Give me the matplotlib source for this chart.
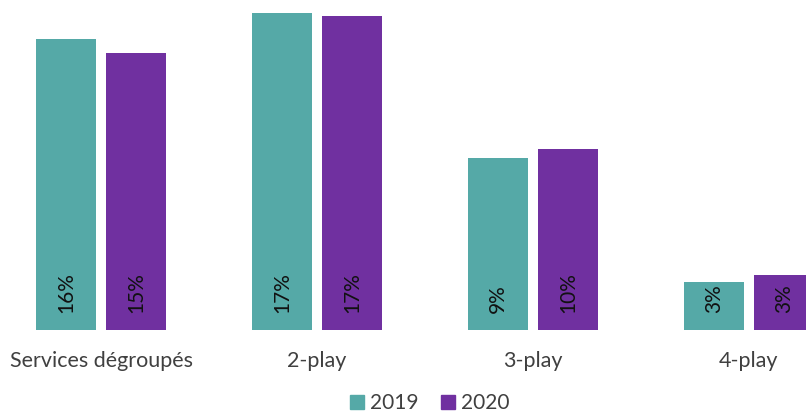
import matplotlib
matplotlib.use("Agg")
import matplotlib.pyplot as plt
import numpy as np
from matplotlib.patches import Patch

categories = ["Services dégroupés", "2-play", "3-play", "4-play"]
series_names = ["2019", "2020"]
values_2019 = [15.6, 17.0, 9.2, 2.6]
values_2020 = [14.85, 16.85, 9.7, 2.95]
labels_2019 = ["16%", "17%", "9%", "3%"]
labels_2020 = ["15%", "17%", "10%", "3%"]
colors = ["#55A9A7", "#7030A0"]

plt.rcParams['font.family'] = ['Lato', 'DejaVu Sans']

fig = plt.figure(figsize=(8.06, 4.16), dpi=100)
ax = fig.add_axes([0, 86/416, 1, 330/416])

x = np.arange(len(categories))
w = 0.278
off = 0.162
for vals, labs, col, sign in [(values_2019, labels_2019, colors[0], -1),
                              (values_2020, labels_2020, colors[1], 1)]:
    bars = ax.bar(x + sign*off, vals, width=w, color=col)
    for b, lab in zip(bars, labs):
        ax.annotate(lab, (b.get_x() + b.get_width()/2, 0), xytext=(0, 12),
                    textcoords="offset points", rotation=90, ha="center",
                    va="bottom", fontsize=15, color="#111111")

ax.set_xlim(-0.4676, 3.2639)
ax.set_ylim(0, 17.7)
ax.set_xticks(x)
ax.set_xticklabels(categories, fontsize=15.5, color="#404040")
ax.tick_params(axis='x', length=0, pad=15)
ax.set_yticks([])
for s in ax.spines.values():
    s.set_visible(False)

handles = [Patch(color=c, label=n) for c, n in zip(colors, series_names)]
fig.legend(handles=handles, loc="lower center", bbox_to_anchor=(430/806, -0.038),
           ncol=2, frameon=False, fontsize=15, handlelength=0.65, handleheight=0.65,
           handletextpad=0.3, columnspacing=1.1, labelcolor="#404040")

fig.savefig("out.png", dpi=100)
